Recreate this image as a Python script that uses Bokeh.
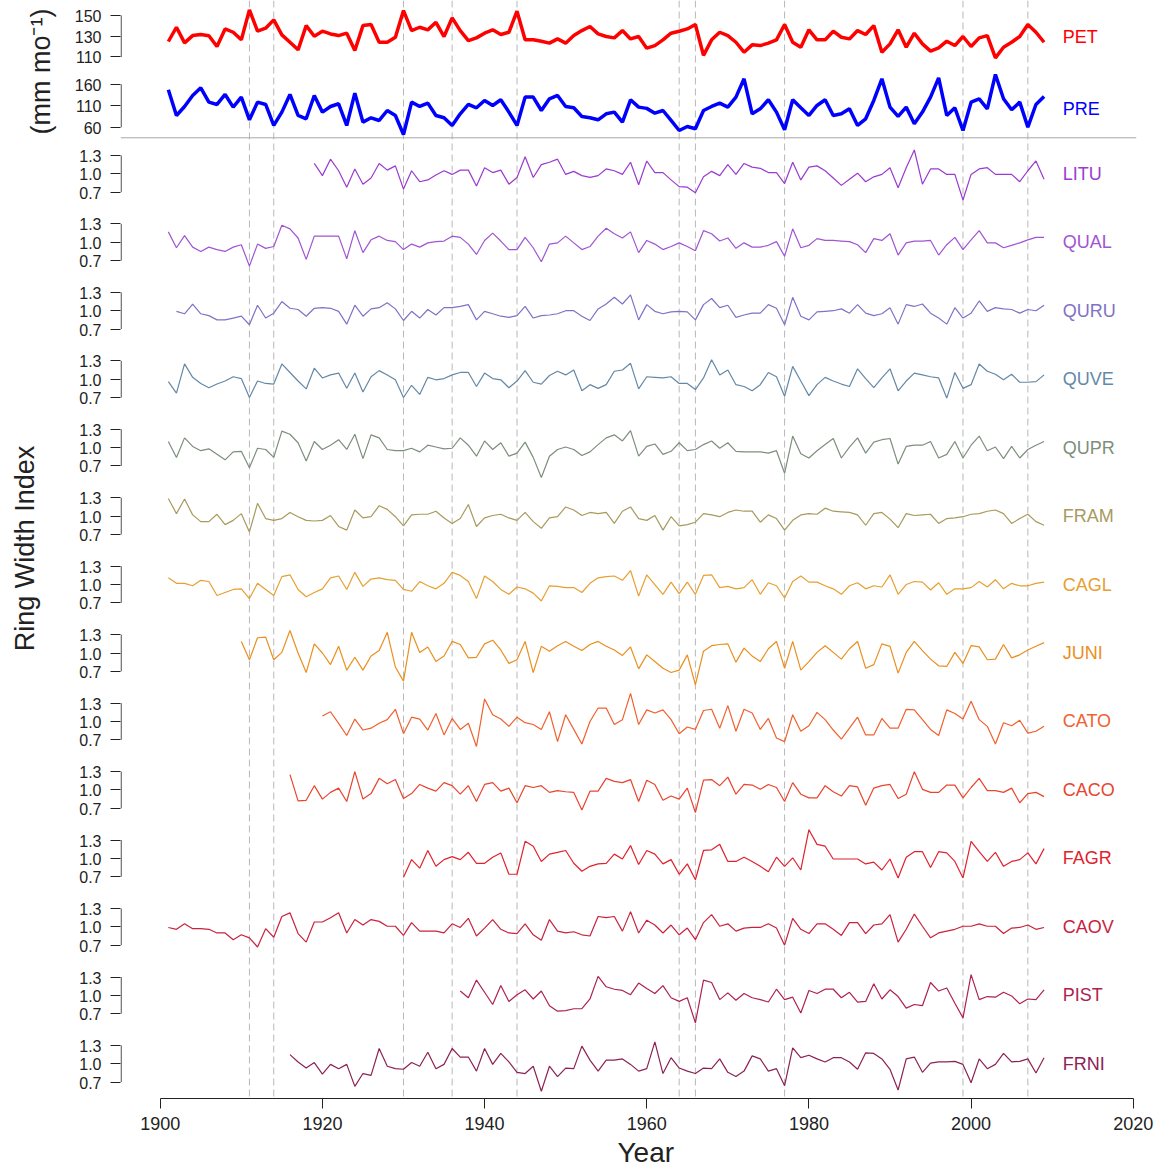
from math import pi
from bokeh.plotting import figure
from bokeh.layouts import row
from bokeh.models import Range1d, FixedTicker, Span, Title, ColumnDataSource
from bokeh.embed import file_html
from bokeh.resources import INLINE
from bokeh.core.properties import value

# ---------------------------------------------------------------- data
PET_START = 1901
PET = [
    124.9, 138.6, 123.6, 130.6, 131.6, 130.5, 120.1, 137.0, 133.8, 126.5,
    155.3, 134.8, 137.7, 145.7, 131.3, 124.2, 116.9, 140.2, 130.0, 134.8,
    132.2, 130.6, 132.9, 116.2, 140.2, 141.2, 124.2, 124.2, 129.0, 154.6,
    135.4, 138.6, 136.1, 143.4, 129.7, 147.6, 135.4, 125.8, 128.4, 132.9,
    136.1, 131.6, 133.8, 154.0, 126.5, 126.5, 125.2, 123.3, 127.4, 123.3,
    130.6, 135.4, 139.3, 132.2, 129.7, 128.4, 135.4, 127.4, 129.7, 118.5,
    121.0, 126.5, 132.9, 134.8, 137.0, 141.2, 111.6, 126.5, 133.8, 130.6,
    124.2, 114.6, 121.7, 121.0, 123.3, 126.5, 141.2, 124.2, 119.4, 136.1,
    126.5, 126.5, 134.8, 129.0, 127.4, 135.4, 131.6, 140.2, 114.6, 122.6,
    136.1, 119.4, 132.9, 122.6, 115.6, 118.8, 125.2, 121.0, 129.7, 120.1,
    128.4, 130.6, 109.2, 119.4, 124.2, 129.7, 141.2, 133.8, 124.2]

PRE_START = 1901
PRE = [
    147.2, 87.5, 108.4, 134.0, 151.9, 118.5, 113.1, 136.4, 106.9, 130.2,
    77.4, 118.5, 113.1, 64.3, 95.3, 136.4, 87.5, 79.8, 134.0, 95.3,
    108.4, 114.7, 64.3, 139.5, 72.0, 82.1, 75.9, 99.1, 87.5, 43.3,
    118.5, 108.4, 116.2, 87.5, 82.1, 64.3, 91.4, 113.1, 105.3, 122.4,
    110.8, 124.0, 95.3, 64.3, 130.2, 130.2, 99.1, 126.3, 134.0, 108.4,
    105.3, 85.2, 82.1, 77.4, 91.4, 95.3, 72.0, 124.0, 106.9, 104.0,
    92.9, 99.1, 75.9, 52.6, 61.9, 56.5, 99.1, 108.4, 116.2, 106.9,
    130.2, 172.8, 91.4, 103.0, 124.0, 95.3, 54.2, 124.0, 105.3, 87.5,
    110.8, 124.0, 87.5, 91.4, 103.0, 64.3, 79.8, 122.4, 172.8, 106.9,
    85.2, 106.9, 68.1, 95.3, 130.2, 175.1, 87.5, 105.3, 52.6, 118.5,
    126.3, 103.0, 182.9, 126.3, 100.7, 118.5, 60.4, 113.1, 131.7]

LITU = [
    1.17, 0.97,
    1.24, 1.05, 0.78, 1.08, 0.83, 0.93, 1.17, 1.06, 1.13, 0.75,
    1.05, 0.87, 0.90, 0.98, 1.05, 0.99, 1.06, 1.06, 0.80, 1.10,
    1.02, 1.06, 0.83, 0.94, 1.28, 0.94, 1.15, 1.19, 1.24, 0.99,
    1.04, 0.97, 0.94, 0.97, 1.08, 1.05, 0.99, 1.19, 0.82, 1.21,
    1.02, 1.02, 0.90, 0.79, 0.78, 0.69, 0.95, 1.04, 0.97, 1.15,
    0.99, 1.17, 1.11, 1.09, 1.02, 1.02, 0.84, 1.19, 0.90, 1.11,
    1.13, 1.05, 0.93, 0.81, 0.91, 1.01, 0.87, 0.95, 0.99, 1.10,
    0.77, 1.10, 1.39, 0.83, 1.08, 1.08, 0.99, 0.99, 0.57, 0.99,
    1.08, 1.10, 0.99, 0.99, 0.99, 0.87, 1.05, 1.21, 0.91]

QUAL = [
    1.17, 0.91, 1.11, 0.92, 0.85, 0.92, 0.88, 0.85, 0.92, 0.96,
    0.61, 0.97, 0.90, 0.93, 1.28, 1.22, 1.07, 0.72, 1.10, 1.10,
    1.10, 1.10, 0.73, 1.19, 0.83, 1.04, 1.10, 1.03, 1.01, 0.88,
    0.97, 0.92, 0.99, 1.01, 1.02, 1.10, 1.08, 0.97, 0.80, 1.03,
    1.15, 1.02, 0.88, 0.88, 1.08, 0.91, 0.68, 0.97, 0.99, 1.10,
    0.99, 0.88, 0.93, 1.10, 1.23, 1.14, 1.07, 1.17, 0.83, 1.03,
    0.97, 0.88, 0.93, 0.99, 0.93, 0.86, 1.19, 1.14, 1.02, 1.07,
    0.90, 0.99, 0.92, 0.92, 0.95, 1.01, 0.77, 1.22, 0.91, 0.95,
    1.06, 1.03, 1.03, 1.02, 1.01, 0.96, 0.83, 1.06, 1.03, 1.14,
    0.79, 0.99, 1.02, 1.02, 1.03, 0.79, 0.96, 1.08, 0.88, 1.04,
    1.19, 0.99, 0.99, 0.91, 0.95, 0.99, 1.04, 1.08, 1.08]

QURU = [
    0.99, 0.95, 1.11, 0.95, 0.92, 0.85, 0.85, 0.88, 0.91,
    0.77, 1.09, 0.88, 0.96, 1.15, 1.04, 1.02, 0.91, 1.04, 1.05,
    1.04, 0.99, 0.78, 1.09, 0.91, 1.03, 1.05, 1.13, 1.03, 0.84,
    0.99, 0.88, 1.02, 0.93, 1.05, 1.05, 1.07, 1.10, 0.85, 0.99,
    0.95, 0.91, 0.89, 0.92, 1.07, 0.88, 0.92, 0.93, 0.95, 1.00,
    1.00, 0.91, 0.84, 1.03, 1.11, 1.22, 1.11, 1.26, 0.85, 1.10,
    0.99, 0.95, 0.98, 0.99, 0.98, 0.85, 1.10, 1.20, 1.05, 1.09,
    0.89, 0.93, 0.96, 0.96, 1.10, 1.04, 0.77, 1.22, 0.91, 0.85,
    0.98, 0.99, 1.00, 1.03, 0.96, 1.10, 0.96, 0.92, 0.95, 1.05,
    0.78, 1.10, 1.07, 1.11, 0.96, 0.88, 0.78, 1.05, 0.88, 0.96,
    1.16, 0.99, 1.05, 1.03, 1.02, 0.96, 1.02, 1.00, 1.09]

QUVE = [
    0.96, 0.77, 1.25, 1.03, 0.93, 0.86, 0.92, 0.97, 1.04, 1.01,
    0.70, 0.97, 0.93, 0.92, 1.25, 1.11, 0.97, 0.84, 1.18, 1.02,
    1.07, 1.10, 0.85, 1.10, 0.79, 1.04, 1.14, 1.07, 0.99, 0.70,
    0.90, 0.75, 1.03, 0.99, 1.01, 1.07, 1.11, 1.11, 0.88, 1.10,
    1.01, 0.99, 0.86, 0.97, 1.14, 0.95, 0.92, 1.06, 1.13, 1.07,
    1.15, 0.81, 0.91, 0.85, 0.91, 1.13, 1.15, 1.26, 0.84, 1.04,
    1.03, 1.02, 1.04, 0.93, 0.93, 0.83, 1.02, 1.32, 1.07, 1.15,
    0.91, 0.88, 0.81, 0.91, 1.11, 1.04, 0.72, 1.21, 0.97, 0.73,
    0.91, 1.03, 0.97, 0.92, 0.88, 1.17, 1.01, 0.86, 1.02, 1.17,
    0.81, 0.97, 1.10, 1.07, 1.04, 1.02, 0.69, 1.11, 0.85, 0.91,
    1.25, 1.13, 1.08, 0.99, 1.08, 0.95, 0.95, 0.96, 1.07]

QUPR = [
    1.10, 0.84, 1.16, 1.02, 0.95, 0.98, 0.89, 0.80, 0.93, 0.94,
    0.67, 0.99, 0.97, 0.84, 1.27, 1.22, 1.08, 0.78, 1.10, 0.97,
    1.04, 1.13, 0.97, 1.22, 0.82, 1.21, 1.16, 0.97, 0.95, 0.95,
    0.99, 0.93, 1.04, 1.01, 0.98, 0.99, 1.16, 1.04, 0.86, 1.11,
    0.97, 1.08, 0.86, 0.91, 1.09, 0.84, 0.51, 0.86, 0.97, 1.01,
    0.97, 0.87, 0.93, 1.05, 1.16, 1.21, 1.11, 1.28, 0.86, 1.02,
    1.06, 0.89, 0.94, 1.08, 0.95, 0.97, 1.05, 1.11, 0.99, 1.08,
    0.94, 0.93, 0.93, 0.93, 0.91, 0.95, 0.58, 1.19, 0.90, 0.83,
    0.95, 1.05, 1.15, 0.83, 1.01, 1.16, 0.91, 1.09, 1.13, 1.15,
    0.73, 1.02, 1.04, 1.04, 1.10, 0.83, 0.89, 1.10, 0.83, 1.04,
    1.19, 0.95, 1.01, 0.82, 1.02, 0.83, 0.97, 1.04, 1.10]

FRAM = [
    1.29, 1.04, 1.28, 1.02, 0.91, 0.91, 1.03, 0.86, 0.93, 1.04,
    0.74, 1.21, 0.96, 0.93, 0.96, 1.06, 0.99, 0.93, 0.92, 0.93,
    1.01, 0.83, 0.77, 1.10, 0.97, 0.99, 1.17, 1.11, 0.99, 0.84,
    1.02, 1.03, 1.03, 1.08, 0.97, 0.88, 0.96, 1.19, 0.83, 0.97,
    1.01, 1.03, 0.97, 0.93, 1.06, 0.91, 0.80, 0.97, 0.99, 1.15,
    1.10, 1.01, 1.06, 1.04, 1.06, 0.88, 1.08, 1.15, 0.96, 0.93,
    1.01, 0.77, 0.99, 0.84, 0.86, 0.90, 1.04, 1.02, 0.99, 1.06,
    1.10, 1.08, 1.08, 0.90, 1.02, 0.96, 0.77, 0.93, 1.02, 1.04,
    1.03, 1.13, 1.08, 1.07, 1.06, 1.02, 0.85, 1.04, 1.06, 0.95,
    0.81, 1.04, 1.01, 1.02, 1.03, 0.88, 0.96, 0.97, 0.99, 1.03,
    1.04, 1.08, 1.10, 1.04, 0.88, 0.96, 1.03, 0.91, 0.85]

CAGL = [
    1.11, 1.02, 1.02, 0.98, 1.07, 1.05, 0.82, 0.87, 0.92, 0.93,
    0.77, 1.02, 0.92, 0.82, 1.13, 1.16, 0.92, 0.80, 0.87, 0.93,
    1.11, 1.14, 0.92, 1.20, 0.97, 1.09, 1.11, 1.08, 1.07, 0.92,
    0.89, 1.05, 0.98, 0.93, 1.02, 1.20, 1.15, 1.05, 0.77, 1.14,
    1.05, 0.92, 0.84, 0.96, 0.93, 0.86, 0.73, 0.98, 0.97, 0.95,
    0.95, 0.87, 1.02, 1.11, 1.13, 1.14, 1.07, 1.23, 0.81, 1.16,
    1.00, 0.84, 1.04, 0.85, 1.04, 0.84, 1.15, 1.16, 0.95, 0.97,
    0.93, 0.95, 1.08, 0.84, 1.03, 0.98, 0.78, 1.05, 1.14, 1.04,
    1.04, 0.98, 0.93, 0.84, 0.98, 1.03, 0.93, 0.98, 0.96, 1.16,
    0.84, 1.00, 1.05, 1.04, 0.91, 1.03, 0.84, 0.93, 0.93, 0.95,
    1.05, 0.96, 1.08, 0.93, 1.02, 0.98, 0.98, 1.02, 1.04]

JUNI = [
    1.19,
    0.89, 1.25, 1.26, 0.89, 1.01, 1.37, 1.00, 0.68, 1.15, 1.00,
    0.81, 1.11, 0.72, 0.93, 0.72, 0.95, 1.04, 1.34, 0.77, 0.54,
    1.34, 1.01, 1.10, 0.86, 0.95, 1.19, 1.14, 0.92, 0.93, 1.15,
    1.21, 1.05, 0.83, 0.89, 1.19, 0.68, 1.11, 1.03, 1.12, 1.19,
    1.11, 1.04, 1.14, 1.19, 1.11, 1.05, 0.96, 1.10, 0.74, 0.97,
    0.86, 0.75, 0.68, 0.72, 0.97, 0.48, 1.03, 1.12, 1.14, 1.15,
    0.85, 1.08, 0.95, 0.86, 1.07, 1.19, 0.75, 1.19, 0.72, 0.86,
    1.01, 1.12, 1.01, 0.90, 1.07, 1.19, 0.75, 0.81, 1.15, 1.11,
    0.67, 1.01, 1.19, 1.04, 0.90, 0.79, 0.78, 1.01, 0.83, 1.12,
    1.10, 0.89, 0.90, 1.14, 0.92, 0.97, 1.05, 1.11, 1.17]

CATO = [
    1.09,
    1.16, 0.97, 0.77, 1.04, 0.86, 0.89, 0.97, 1.03, 1.20, 0.80,
    1.07, 1.04, 0.86, 1.13, 0.78, 1.05, 0.87, 0.97, 0.59, 1.37,
    1.11, 1.04, 0.92, 1.07, 0.98, 0.95, 0.87, 1.16, 0.67, 1.11,
    0.87, 0.63, 1.00, 1.22, 1.22, 0.95, 1.03, 1.46, 0.95, 1.19,
    1.14, 1.19, 1.03, 0.80, 0.91, 0.87, 1.18, 1.20, 0.89, 1.26,
    0.84, 1.20, 1.14, 0.87, 1.05, 0.73, 0.67, 1.11, 0.84, 0.93,
    1.15, 1.03, 0.86, 0.71, 0.89, 1.07, 0.78, 0.78, 1.05, 0.89,
    0.89, 1.20, 1.19, 1.03, 0.87, 0.77, 1.19, 1.13, 1.04, 1.33,
    1.03, 0.92, 0.63, 0.98, 0.93, 1.02, 0.81, 0.84, 0.92]

CACO = [
    1.25, 0.82, 0.83, 1.07, 0.85,
    0.96, 1.03, 0.81, 1.30, 0.85, 0.94, 1.19, 1.10, 1.17, 0.86,
    0.94, 1.09, 1.03, 0.98, 1.12, 1.07, 0.93, 1.07, 0.81, 1.09,
    1.12, 0.98, 1.03, 0.79, 1.07, 1.04, 1.07, 0.96, 0.99, 0.97,
    0.96, 0.67, 0.98, 0.98, 1.19, 1.14, 1.12, 1.17, 0.81, 1.16,
    1.09, 0.83, 0.90, 0.85, 1.03, 0.63, 1.16, 1.17, 1.07, 1.21,
    0.93, 1.09, 1.08, 1.01, 1.09, 1.04, 0.81, 1.12, 0.93, 0.87,
    0.87, 1.07, 0.97, 0.90, 1.07, 1.05, 0.75, 1.03, 1.07, 1.09,
    0.86, 0.93, 1.30, 1.01, 0.96, 0.96, 1.08, 1.08, 0.87, 1.04,
    1.19, 0.99, 0.99, 0.96, 1.03, 0.79, 0.94, 0.96, 0.89]

FAGR = [
    0.69,
    0.98, 0.84, 1.13, 0.87, 0.98, 1.03, 0.98, 1.10, 0.92, 0.92,
    1.02, 1.09, 0.74, 0.74, 1.28, 1.20, 0.95, 1.07, 1.10, 1.13,
    0.92, 0.79, 0.87, 0.91, 0.92, 1.07, 0.99, 1.21, 0.90, 1.13,
    1.07, 0.91, 0.98, 0.74, 0.91, 0.65, 1.13, 1.14, 1.23, 0.95,
    0.95, 1.02, 0.95, 0.87, 0.78, 1.02, 0.87, 1.01, 0.81, 1.47,
    1.23, 1.20, 0.99, 0.99, 0.99, 0.99, 0.91, 0.94, 0.81, 0.99,
    0.68, 1.02, 1.11, 1.11, 0.85, 1.11, 1.09, 0.95, 0.68, 1.28,
    1.11, 0.95, 1.10, 0.87, 0.95, 0.98, 1.09, 0.91, 1.16]

CAOV = [
    0.99, 0.96, 1.05, 0.97, 0.97, 0.96, 0.90, 0.90, 0.79, 0.87,
    0.82, 0.67, 0.97, 0.83, 1.17, 1.23, 0.89, 0.75, 1.08, 1.08,
    1.15, 1.23, 0.90, 1.12, 1.03, 1.12, 1.09, 1.01, 1.01, 0.86,
    1.07, 0.93, 0.93, 0.93, 0.90, 1.05, 0.99, 1.14, 0.85, 0.98,
    1.12, 0.96, 0.90, 0.89, 1.05, 0.87, 0.78, 1.12, 0.93, 0.90,
    0.92, 0.87, 0.85, 1.17, 1.15, 1.17, 0.93, 1.25, 0.90, 1.11,
    1.03, 0.90, 1.03, 0.87, 0.98, 0.79, 1.07, 1.20, 1.01, 1.05,
    0.93, 0.98, 0.99, 0.99, 1.05, 0.98, 0.70, 1.14, 0.96, 0.89,
    1.05, 1.05, 0.96, 0.86, 1.07, 1.07, 0.89, 1.03, 1.05, 1.20,
    0.75, 0.96, 1.21, 1.01, 0.82, 0.90, 0.93, 0.96, 1.01, 1.01,
    1.05, 1.01, 1.01, 0.89, 0.98, 0.99, 1.03, 0.96, 0.99]

PIST = [
    1.07, 0.96, 1.25, 1.05,
    0.85, 1.16, 0.90, 1.01, 1.09, 0.94, 1.07, 0.83, 0.74, 0.75,
    0.78, 0.78, 0.94, 1.31, 1.14, 1.10, 1.08, 1.01, 1.20, 1.11,
    1.03, 1.16, 0.96, 0.90, 0.96, 0.55, 1.25, 1.21, 0.93, 1.04,
    0.92, 1.03, 0.96, 0.93, 0.89, 1.10, 0.93, 0.97, 0.71, 1.08,
    1.03, 1.10, 1.10, 0.96, 1.05, 0.89, 0.90, 1.19, 0.94, 1.09,
    0.98, 0.79, 0.85, 0.83, 1.21, 1.07, 1.12, 0.87, 0.63, 1.34,
    0.93, 0.98, 0.97, 1.05, 0.99, 0.86, 0.94, 0.93, 1.09]

FRNI = [
    1.15, 1.03, 0.93, 1.02, 0.83,
    0.99, 0.92, 0.99, 0.63, 0.84, 0.81, 1.25, 0.96, 0.92, 0.91,
    1.02, 0.96, 1.19, 0.92, 0.99, 1.25, 1.11, 1.11, 0.88, 1.25,
    0.99, 1.17, 1.03, 0.86, 0.84, 0.96, 0.55, 0.96, 0.79, 0.93,
    0.92, 1.29, 1.06, 0.88, 1.06, 1.06, 1.08, 0.99, 0.88, 0.92,
    1.36, 0.84, 1.10, 0.93, 0.88, 0.84, 0.93, 0.92, 1.08, 0.86,
    0.79, 0.88, 1.13, 1.08, 0.88, 0.92, 0.64, 1.26, 1.10, 1.14,
    1.08, 1.03, 1.10, 1.10, 1.03, 0.91, 1.18, 1.17, 1.08, 0.91,
    0.57, 1.08, 1.11, 0.86, 1.01, 1.03, 1.03, 1.04, 0.99, 0.69,
    1.08, 0.92, 0.99, 1.17, 1.03, 1.04, 1.08, 0.85, 1.10]

RING_NAMES = ["LITU", "QUAL", "QURU", "QUVE", "QUPR", "FRAM", "CAGL",
              "JUNI", "CATO", "CACO", "FAGR", "CAOV", "PIST", "FRNI"]
RING_START = [1919, 1901, 1902, 1901, 1901, 1901, 1901,
              1910, 1920, 1916, 1930, 1901, 1937, 1916]
RING_VALUES = [LITU, QUAL, QURU, QUVE, QUPR, FRAM, CAGL,
               JUNI, CATO, CACO, FAGR, CAOV, PIST, FRNI]

EVENT_YEARS = [1911, 1914, 1930, 1936, 1944, 1964, 1966, 1977, 1999, 2007]
X_TICKS = [1900, 1920, 1940, 1960, 1980, 2000, 2020]
RING_TICKS = [1.3, 1.0, 0.7]
PET_TICKS = [150, 130, 110]
PRE_TICKS = [160, 110, 60]

# ---------------------------------------------------------------- style / layout
FONT = "Liberation Sans"
RING_COLORS = ["#9B3ACF", "#A055D2", "#8072C4", "#6488A6", "#7D8E7C", "#A89A5C",
               "#E6A031", "#EA8F1F", "#F0612E", "#E8452F", "#E0222E", "#C8223E",
               "#AE2250", "#8C2254"]
PET_COLOR = "#FF0000"
PRE_COLOR = "#0000FF"
AXIS_COLOR = "#222222"

LAB_W = 60                      # width of the strip holding the y titles
FRAME_W, FRAME_H = 1016, 1098
BORDER_L, BORDER_R, BORDER_B = 60, 24, 78
X0, X1 = 1895.1, 2020.4
PX_PER_YEAR = FRAME_W / (X1 - X0)

RING_C0, RING_STEP, RING_PX = 173.3, 68.46, 61.0   # px from top, px per index unit
PET_C, PET_REF, PET_PX = 35.7, 130.0, 1.04
PRE_C, PRE_REF, PRE_PX = 105.3, 110.0, 0.43
SEP_U = 137.3
LABEL_X = 2011.3

p = figure(frame_width=FRAME_W, frame_height=FRAME_H,
           x_range=Range1d(X0, X1), y_range=Range1d(FRAME_H, 0),
           output_backend="svg", toolbar_location=None,
           min_border_left=BORDER_L, min_border_right=BORDER_R,
           min_border_top=0, min_border_bottom=BORDER_B)
p.xgrid.visible = False
p.ygrid.visible = False
p.outline_line_color = None
p.background_fill_color = "white"
p.border_fill_color = "white"


def panel_range(c, ref, px):
    return Range1d(start=ref - (FRAME_H - c) / px, end=ref + c / px)


ranges = {"PET": panel_range(PET_C, PET_REF, PET_PX),
          "PRE": panel_range(PRE_C, PRE_REF, PRE_PX)}
centers = {"PET": (PET_C, PET_REF, PET_PX), "PRE": (PRE_C, PRE_REF, PRE_PX)}
for k, name in enumerate(RING_NAMES):
    c = RING_C0 + RING_STEP * k
    ranges[name] = panel_range(c, 1.0, RING_PX)
    centers[name] = (c, 1.0, RING_PX)
p.extra_y_ranges = ranges

# dashed event lines and separator
for yr in EVENT_YEARS:
    p.add_layout(Span(location=yr, dimension="height", line_color="#B8B8B8",
                      line_dash="7 4", line_width=1, level="underlay"))
p.add_layout(Span(location=SEP_U, dimension="width", line_color="#A8A8A8",
                  line_width=1, level="underlay"))

# y ticks (per panel) on main axis
ticks, overrides = [], {}


def add_ticks(name, vals, fmt):
    c, ref, px = centers[name]
    for v in vals:
        u = int(round(c + (ref - v) * px))
        ticks.append(u)
        overrides[u] = fmt(v)


add_ticks("PET", PET_TICKS, lambda v: "%d" % v)
add_ticks("PRE", PRE_TICKS, lambda v: "%d" % v)
for name in RING_NAMES:
    add_ticks(name, RING_TICKS, lambda v: "%.1f" % v)

ya = p.yaxis[0]
ya.ticker = FixedTicker(ticks=sorted(ticks))
ya.major_label_overrides = overrides
ya.axis_line_color = None
ya.major_tick_out = 10
ya.major_tick_in = 0
ya.major_tick_line_color = AXIS_COLOR
ya.minor_tick_line_color = None
ya.major_label_text_font = FONT
ya.major_label_text_font_size = "16px"
ya.major_label_text_color = AXIS_COLOR
ya.major_label_standoff = 9

# per-panel axis line segments
AX_X = X0 + 0.6 / PX_PER_YEAR
axis_src = {"PET": (min(PET_TICKS), max(PET_TICKS)), "PRE": (min(PRE_TICKS), max(PRE_TICKS))}
for name in RING_NAMES:
    axis_src[name] = (min(RING_TICKS), max(RING_TICKS))
for name, (lo, hi) in axis_src.items():
    p.segment(x0=[AX_X], y0=[lo], x1=[AX_X], y1=[hi], y_range_name=name,
              line_color=AXIS_COLOR, line_width=1)

xa = p.xaxis[0]
xa.ticker = FixedTicker(ticks=X_TICKS)
xa.bounds = (1900, 2020)
xa.axis_line_color = AXIS_COLOR
xa.major_tick_out = 10
xa.major_tick_in = 0
xa.major_tick_line_color = AXIS_COLOR
xa.minor_tick_line_color = None
xa.major_label_text_font = FONT
xa.major_label_text_font_size = "18px"
xa.major_label_text_color = AXIS_COLOR
xa.major_label_standoff = 8

year_title = Title(text="Year", align="left", offset=497, standoff=4,
                   text_font=FONT, text_font_size="28px", text_font_style="normal",
                   text_color=AXIS_COLOR)
p.add_layout(year_title, "below")

# climate series
pet_src = ColumnDataSource(dict(year=list(range(PET_START, PET_START + len(PET))), v=PET))
pre_src = ColumnDataSource(dict(year=list(range(PRE_START, PRE_START + len(PRE))), v=PRE))
p.line("year", "v", source=pet_src, y_range_name="PET", line_color=PET_COLOR, line_width=3.5)
p.line("year", "v", source=pre_src, y_range_name="PRE", line_color=PRE_COLOR, line_width=3.5)

txt = dict(text_font=value(FONT), text_font_size="18px", text_baseline="middle",
           text_align="left")
p.text(x=[LABEL_X], y=[129.0], text=["PET"], y_range_name="PET", text_color=PET_COLOR, **txt)
p.text(x=[LABEL_X], y=[103.0], text=["PRE"], y_range_name="PRE", text_color=PRE_COLOR, **txt)

# ring width series
for name, start, vals, col in zip(RING_NAMES, RING_START, RING_VALUES, RING_COLORS):
    src = ColumnDataSource(dict(year=list(range(start, start + len(vals))), v=vals))
    p.line("year", "v", source=src, y_range_name=name, line_color=col, line_width=1.2)
    p.text(x=[LABEL_X], y=[1.0], text=[name], y_range_name=name, text_color=col, **txt)

# strip on the left carrying the two rotated y titles (frame aligned with main frame)
lab = figure(frame_width=LAB_W, frame_height=FRAME_H,
             x_range=Range1d(0, LAB_W), y_range=Range1d(FRAME_H, 0),
             output_backend="svg", toolbar_location=None,
             x_axis_location=None, y_axis_location=None,
             min_border_left=0, min_border_right=0, min_border_top=0,
             min_border_bottom=BORDER_B)
lab.xgrid.visible = False
lab.ygrid.visible = False
lab.outline_line_color = None
title_txt = dict(text_font=value(FONT), text_font_size="27px", text_baseline="middle",
                 text_align="center", text_color=AXIS_COLOR, angle=pi / 2)
lab.text(x=[40], y=[71], text=["(mm mo\u207b\u00b9)"], **title_txt)
lab.text(x=[24], y=[548], text=["Ring Width Index"], **title_txt)

layout = row(lab, p)
open("out.html", "w").write(file_html(layout, INLINE))
